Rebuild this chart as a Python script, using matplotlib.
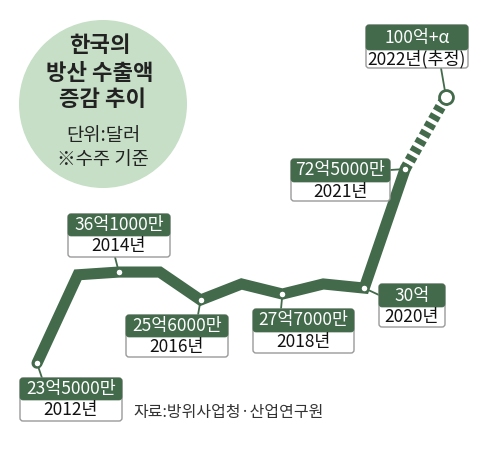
import matplotlib
matplotlib.use("Agg")
import matplotlib.pyplot as plt
import matplotlib.transforms as mtransforms
from matplotlib.patches import Circle, FancyBboxPatch

plt.rcParams['font.family'] = ['Noto Sans CJK KR', 'DejaVu Sans']

# data
years = [2012, 2013, 2014, 2015, 2016, 2017, 2018, 2019, 2020, 2021, 2022]
# the infographic is not drawn to scale, so these are the heights read off the picture (0-100)
drawn_level = [20.7, 40.0, 40.6, 40.6, 34.5, 38.0, 35.8, 38.0, 37.1, 63.1, 78.8]

label_years = [2012, 2014, 2016, 2018, 2020, 2021, 2022]
label_values = ["23억5000만", "36억1000만", "25억6000만", "27억7000만", "30억", "72억5000만", "100억+α"]
label_texts = ["2012년", "2014년", "2016년", "2018년", "2020년", "2021년", "2022년(추정)"]

title = "한국의\n방산 수출액\n 증감 추이"
unit_note = ["단위:달러", "※수주 기준"]
source = "자료:방위사업청·산업연구원"

GREEN = "#426a4b"
LIGHT = "#c6dfc6"
W, H = 500, 458

fig = plt.figure(figsize=(W / 100, H / 100), dpi=100)
ax = fig.add_axes([0, 0, 1, 1])
ax.set_xlim(2011.095, 2023.32)
ax.set_ylim(0, 100)
ax.axis("off")

# pixel coords, origin top-left
pix = mtransforms.Affine2D().scale(1 / W, -1 / H).translate(0, 1) + ax.transAxes


def to_pix(x, y):
    return pix.inverted().transform(ax.transData.transform((x, y)))


# title bubble
ax.add_patch(Circle((103, 104), 84, transform=pix, color=LIGHT, lw=0, zorder=1))
for line, yy in zip(title.split("\n"), [46, 73, 100]):
    ax.text(100, yy, line, transform=pix, ha="center", va="center", fontsize=16,
            fontweight="bold", color="#222222", zorder=2)
for line, yy in zip(unit_note, [136, 160]):
    ax.text(103, yy, line, transform=pix, ha="center", va="center", fontsize=13.5,
            color="#222222", zorder=2)

# line
ax.plot(years[:-1], drawn_level[:-1], color=GREEN, lw=8, solid_joinstyle="miter",
        solid_capstyle="round", zorder=3)
ax.plot(years[-2:], drawn_level[-2:], color=GREEN, lw=8, dashes=(0.5, 0.35),
        dash_capstyle="butt", zorder=3)
lx = [years.index(y) for y in label_years[:-1]]
ax.plot([years[i] for i in lx], [drawn_level[i] for i in lx], "o", ms=5,
        mfc="white", mec=GREEN, mew=1, zorder=5)
ax.plot(years[-1], drawn_level[-1], "o", ms=10, mfc="white", mec=GREEN, mew=2, zorder=5)

# label boxes: left, top, width, green height, white height, connector start
boxes = [
    (20, 378, 102, 22, 21, (42, 378)),
    (68, 214, 102, 22, 21, (115, 257)),
    (126, 315, 102, 22, 20, (198, 315)),
    (253, 309, 101, 23, 21, (281, 309)),
    (379, 284, 66, 23, 20, (379, 295)),
    (291, 159, 99, 23, 19, (390, 170)),
    (366, 25, 102, 25, 18, (441, 68)),
]
for (l, t, w, gh, wh, start), yr, val, txt in zip(boxes, label_years, label_values, label_texts):
    px, py = to_pix(yr, drawn_level[years.index(yr)])
    ax.plot([start[0], px], [start[1], py], color=GREEN, lw=1.3, transform=pix, zorder=4)
    ax.add_patch(FancyBboxPatch((l, t), w, gh + wh, boxstyle="round,pad=0,rounding_size=3",
                                transform=pix, fc="white", ec="#9a9a9a", lw=1, zorder=6))
    ax.add_patch(FancyBboxPatch((l, t), w, gh, boxstyle="round,pad=0,rounding_size=3",
                                transform=pix, fc=GREEN, ec=GREEN, lw=0.5, zorder=7))
    ax.text(l + w / 2, t + gh / 2, val, transform=pix, ha="center", va="center",
            fontsize=12.5, color="white", zorder=8)
    ax.text(l + w / 2, t + gh + wh / 2, txt, transform=pix, ha="center", va="center",
            fontsize=12.5, color="#111111", zorder=8)

ax.text(133, 413, source, transform=pix, ha="left", va="center", fontsize=11.5,
        color="#333333")

fig.savefig("out.png", dpi=100)
